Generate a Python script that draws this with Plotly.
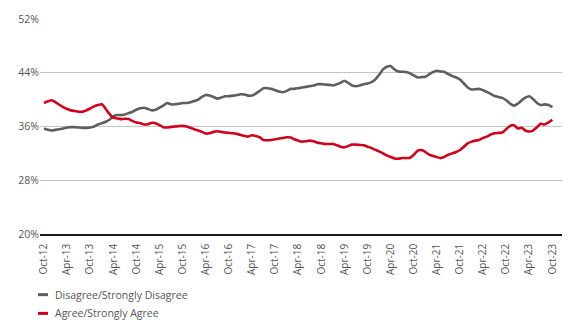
import pandas as pd
import plotly.graph_objects as go

# Monthly survey shares, Oct-2012 .. Oct-2023 (percent)
start_month = "2012-10-01"

disagree = [
    35.7, 35.5, 35.4, 35.5, 35.6, 35.7, 35.85, 35.9, 35.9, 35.85, 35.8, 35.8,
    35.85, 36.0, 36.3, 36.5, 36.7, 37.0, 37.5, 37.7, 37.7, 37.8, 38.0, 38.2,
    38.5, 38.7, 38.8, 38.6, 38.4, 38.5, 38.8, 39.1, 39.5, 39.3, 39.3, 39.4,
    39.5, 39.5, 39.6, 39.8, 40.0, 40.4, 40.7, 40.6, 40.4, 40.15, 40.3, 40.5,
    40.5, 40.6, 40.65, 40.8, 40.75, 40.6, 40.6, 40.9, 41.3, 41.7, 41.7, 41.6,
    41.4, 41.2, 41.1, 41.3, 41.6, 41.6, 41.7, 41.8, 41.9, 42.0, 42.1, 42.3,
    42.3, 42.25, 42.2, 42.1, 42.3, 42.5, 42.8, 42.5, 42.1, 42.0, 42.1, 42.3,
    42.4, 42.6, 43.0, 43.7, 44.5, 44.9, 45.0, 44.5, 44.2, 44.15, 44.1, 43.9,
    43.6, 43.3, 43.35, 43.4, 43.8, 44.1, 44.3, 44.2, 44.1, 43.8, 43.5, 43.3,
    43.0, 42.4, 41.8, 41.5, 41.55, 41.6, 41.4, 41.15, 40.85, 40.55, 40.4, 40.26,
    39.9, 39.4, 39.1, 39.4, 39.9, 40.3, 40.5, 40.1, 39.5, 39.2, 39.3, 39.2,
    38.9,
]

agree = [
    39.5, 39.75, 39.9, 39.6, 39.2, 38.9, 38.6, 38.4, 38.3, 38.2, 38.2, 38.4,
    38.7, 39.0, 39.2, 39.3, 38.6, 37.9, 37.3, 37.2, 37.1, 37.15, 37.1, 36.8,
    36.6, 36.5, 36.3, 36.35, 36.55, 36.5, 36.2, 35.9, 35.85, 35.95, 36.0, 36.05,
    36.1, 36.0, 35.8, 35.6, 35.4, 35.2, 34.95, 35.0, 35.2, 35.3, 35.2, 35.1,
    35.05, 35.0, 34.9, 34.75, 34.6, 34.5, 34.7, 34.6, 34.4, 34.0, 33.95, 34.0,
    34.1, 34.2, 34.3, 34.4, 34.35, 34.1, 33.9, 33.75, 33.8, 33.9, 33.8, 33.6,
    33.5, 33.4, 33.4, 33.4, 33.2, 33.0, 32.9, 33.1, 33.3, 33.3, 33.25, 33.2,
    33.0, 32.8, 32.55, 32.3, 32.0, 31.7, 31.45, 31.25, 31.2, 31.3, 31.3, 31.35,
    31.8, 32.4, 32.5, 32.2, 31.8, 31.6, 31.45, 31.3, 31.5, 31.8, 32.0, 32.2,
    32.5, 33.0, 33.5, 33.75, 33.9, 34.0, 34.3, 34.5, 34.8, 35.0, 35.05, 35.1,
    35.6, 36.1, 36.2, 35.7, 35.8, 35.4, 35.25, 35.4, 35.9, 36.4, 36.3, 36.6,
    37.0,
]

series_names = ["Disagree/Strongly Disagree", "Agree/Strongly Agree"]
series_colors = ["#5e5e5e", "#d0021b"]
y_ticks = [20, 28, 36, 44, 52]

months = pd.date_range(start_month, periods=len(disagree), freq="MS")
tick_dates = pd.date_range(start_month, months[-1], freq="6MS")
tick_labels = [d.strftime("%b-%y") for d in tick_dates]

FONT = "Open Sans"
TEXT_GRAY = "#555555"

fig = go.Figure()
for name, vals, col in zip(series_names, [disagree, agree], series_colors):
    fig.add_trace(go.Scatter(
        x=months, y=vals, mode="lines", name=name,
        line=dict(color=col, width=2.6, shape="spline", smoothing=0.6),
        showlegend=False,
    ))

# Plot area geometry in pixels (for the hand-placed legend)
W, H = 581, 330
ML, MR, MT, MB = 40, 19, 16, 96
pw, ph = W - ML - MR, H - MT - MB


def px_x(p):
    return (p - ML) / pw


def px_y(p):
    return (H - MB - p) / ph


shapes, annotations = [], []
for k, (name, col) in enumerate(zip(series_names, series_colors)):
    yy = 295.5 + k * 19
    shapes.append(dict(type="line", xref="paper", yref="paper",
                       x0=px_x(38), x1=px_x(48), y0=px_y(yy), y1=px_y(yy),
                       line=dict(color=col, width=3)))
    annotations.append(dict(xref="paper", yref="paper", x=px_x(53), y=px_y(yy),
                            xanchor="left", yanchor="middle", showarrow=False,
                            text=name, font=dict(family=FONT, size=10.5, color=TEXT_GRAY)))

x_lo = months[0] - pd.Timedelta(days=32)
x_hi = months[-1] + pd.Timedelta(days=76)

fig.update_layout(
    width=W, height=H,
    margin=dict(l=ML, r=MR, t=MT, b=MB),
    paper_bgcolor="white", plot_bgcolor="white",
    font=dict(family=FONT, size=10, color=TEXT_GRAY),
    shapes=shapes, annotations=annotations,
    xaxis=dict(
        range=[x_lo, x_hi],
        tickmode="array", tickvals=tick_dates, ticktext=tick_labels,
        tickangle=-90, showgrid=False, ticks="",
        showline=True, linecolor="#1a1a1a", linewidth=1.6,
        tickfont=dict(family=FONT, size=10, color=TEXT_GRAY),
        ticklabelstandoff=4,
    ),
    yaxis=dict(
        range=[20, 52], tickmode="array", tickvals=y_ticks,
        ticktext=[f"{v}%" for v in y_ticks],
        showgrid=True, gridcolor="#c4c4c4", gridwidth=1,
        zeroline=False, ticks="",
        tickfont=dict(family=FONT, size=10.5, color=TEXT_GRAY),
    ),
)

fig.write_html("out.html")
